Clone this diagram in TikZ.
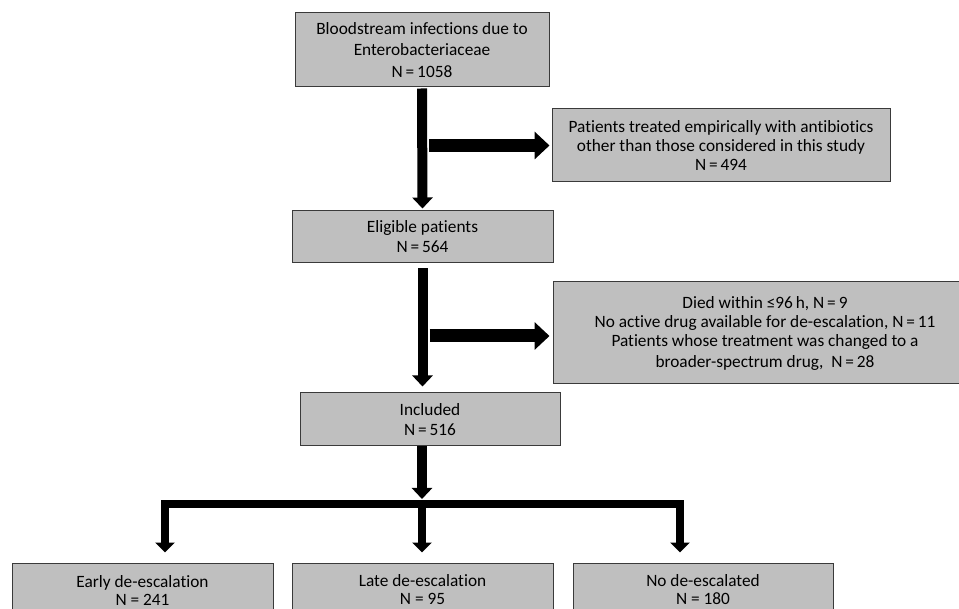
\documentclass[tikz,border=0pt]{standalone}
\usepackage{fontspec}
\setmainfont{Carlito}[Ligatures={NoCommon}]
\usetikzlibrary{arrows.meta}
\definecolor{BoxGray}{HTML}{BFBFBF}
\definecolor{BoxEdge}{HTML}{3A3A3A}

\begin{document}
\begin{tikzpicture}[x=1pt,y=-1pt,
  box/.style={draw=BoxEdge,fill=BoxGray,line width=1pt,align=center,inner sep=0pt,font=\fontsize{17.3}{20}\selectfont},
  mainarrow/.style={line width=10pt,-{Triangle[width=20pt,length=11pt]}},
  sidearrow/.style={line width=13pt,-{Triangle[width=27pt,length=15pt]}},
  branch/.style={line width=8pt,-{Triangle[width=19pt,length=10pt]}}]
  \useasboundingbox (0,0) rectangle (959,609); \clip (0,0) rectangle (959,609);
  \node[box,minimum width=254pt,minimum height=74pt,font=\fontsize{17.3}{21.5}\selectfont] (bsi) at (422,50) {Bloodstream infections due to\\Enterobacteriaceae\\N\,=\,1058};
  \node[box,minimum width=338pt,minimum height=73pt,font=\fontsize{17.3}{19}\selectfont] (excl1) at (721,145.5) {Patients treated empirically with antibiotics\\other than those considered in this study\\N\,=\,494};
  \node[box,minimum width=261pt,minimum height=52pt] (elig) at (422.5,237) {Eligible patients\\N\,=\,564};
  \node[box,minimum width=424pt,minimum height=102pt,font=\fontsize{17.3}{19}\selectfont] (excl2) at (765,333) {Died within ≤96\,h, N\,=\,9\\No active drug available for de-escalation, N\,=\,11\\Patients whose treatment was changed to a\\[2pt]broader-spectrum drug,\ \ N\,=\,28};
  \node[box,minimum width=260pt,minimum height=53pt] (incl) at (430,419.5) {Included\\N\,=\,516};
  \node[box,minimum width=261pt,minimum height=54pt,font=\fontsize{17.3}{18}\selectfont] (early) at (142.5,590) {Early de-escalation\\N = 241};
  \node[box,minimum width=261pt,minimum height=54pt,font=\fontsize{17.3}{18}\selectfont] (late) at (422.5,590) {Late de-escalation\\N = 95};
  \node[box,minimum width=260pt,minimum height=54pt,font=\fontsize{17.3}{18}\selectfont] (none) at (703,590) {No de-escalated\\N = 180};
  % main flow
  \draw[mainarrow,shorten <=1pt,shorten >=2pt] (bsi.south) -- (elig.north);
  \draw[sidearrow,shorten >=2pt] ([xshift=7pt]bsi.south |- excl1.west) -- (excl1.west);
  \draw[mainarrow,shorten <=5pt,shorten >=6pt] (elig.south) -- (elig.south |- incl.north);
  \draw[sidearrow,shorten >=3pt] ([xshift=7pt,yshift=-3pt]elig.south |- excl2.west) -- ([yshift=-3pt]excl2.west);
  % split into three groups
  \coordinate (split) at (422,504);
  \coordinate (bl) at (165,504);
  \coordinate (br) at (680,504);
  \draw[mainarrow,shorten >=5pt] (split |- incl.south) -- (split);
  \draw[branch,{Triangle[width=19pt,length=10pt]}-{Triangle[width=19pt,length=10pt]},shorten <=10pt,shorten >=10pt] (bl |- early.north) -- (bl) -- (br) -- (br |- none.north);
  \draw[branch,shorten >=10pt] (split) -- (split |- late.north);
\end{tikzpicture}
\end{document}
